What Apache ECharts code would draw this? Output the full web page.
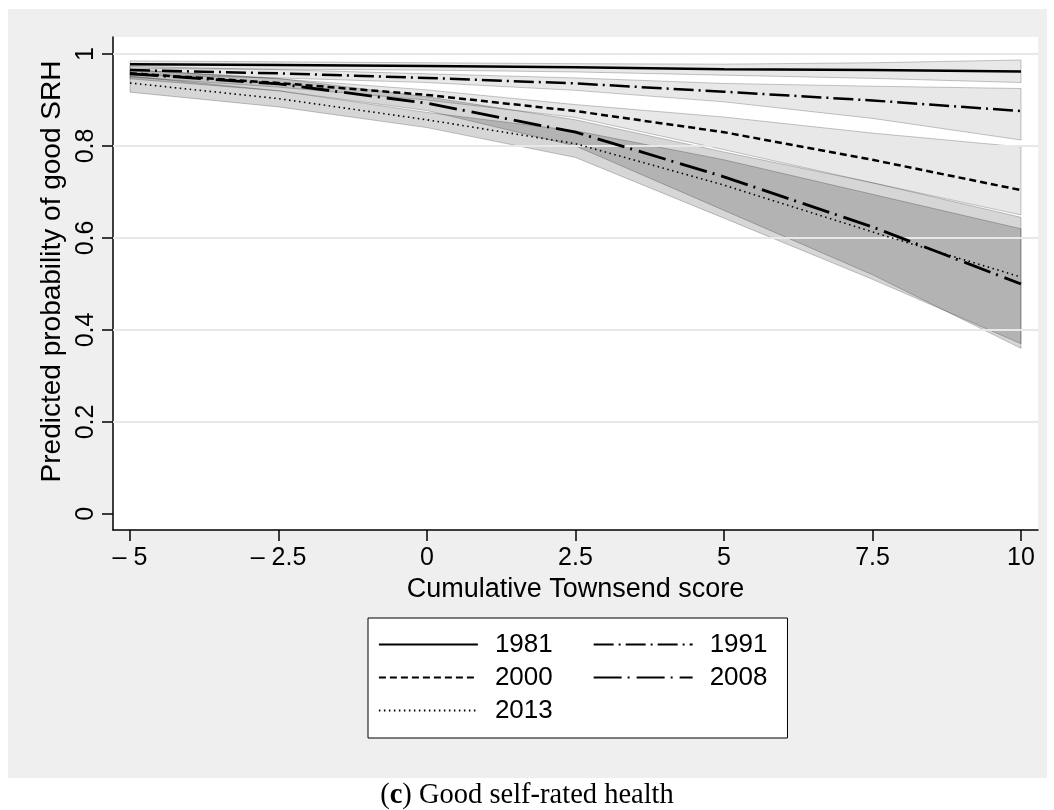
<!DOCTYPE html>
<html>
<head>
<meta charset="utf-8">
<script src="https://cdn.jsdelivr.net/npm/echarts@6/dist/echarts.min.js"></script>
<style>
html,body{margin:0;padding:0;background:#fff;}
#chart{width:1054px;height:810px;}
</style>
</head>
<body>
<div id="chart"></div>
<script>
// ---- data ----
const xs = [-5, -2.5, 0, 2.5, 5, 7.5, 10];
const xTicks = [-5, -2.5, 0, 2.5, 5, 7.5, 10];
const xTickLabels = ['\u2013 5', '\u2013 2.5', '0', '2.5', '5', '7.5', '10'];
const yTicks = [0, 0.2, 0.4, 0.6, 0.8, 1];
const yTickLabels = ['0', '0.2', '0.4', '0.6', '0.8', '1'];
const gridValues = [0.2, 0.4, 0.6, 0.8, 1];

const years = ['1981', '1991', '2000', '2008', '2013'];

const p1981 = [0.978, 0.976, 0.974, 0.971, 0.967, 0.965, 0.962];
const lo1981 = [0.968, 0.967, 0.965, 0.961, 0.954, 0.947, 0.938];
const hi1981 = [0.985, 0.983, 0.981, 0.979, 0.978, 0.981, 0.987];

const p1991 = [0.965, 0.958, 0.948, 0.936, 0.918, 0.899, 0.876];
const lo1991 = [0.955, 0.948, 0.938, 0.921, 0.896, 0.860, 0.813];
const hi1991 = [0.973, 0.966, 0.957, 0.948, 0.936, 0.930, 0.925];

const p2000 = [0.958, 0.937, 0.911, 0.876, 0.830, 0.770, 0.704];
const lo2000 = [0.950, 0.928, 0.900, 0.862, 0.792, 0.720, 0.650];
const hi2000 = [0.966, 0.946, 0.922, 0.890, 0.863, 0.828, 0.798];

const p2008 = [0.957, 0.935, 0.893, 0.830, 0.733, 0.624, 0.500];
const lo2008 = [0.946, 0.920, 0.877, 0.800, 0.660, 0.520, 0.360];
const hi2008 = [0.966, 0.947, 0.907, 0.857, 0.787, 0.720, 0.645];

const p2013 = [0.937, 0.903, 0.857, 0.805, 0.715, 0.613, 0.515];
const lo2013 = [0.917, 0.885, 0.840, 0.775, 0.643, 0.510, 0.370];
const hi2013 = [0.952, 0.920, 0.873, 0.833, 0.770, 0.695, 0.620];

// ---- build ----
const FONT = '"Liberation Sans", Arial, Helvetica, sans-serif';
const SERIF = '"Liberation Serif", "Times New Roman", serif';
const pts = (ys) => xs.map((x, i) => [x, ys[i]]);

function bandSeries(name, lo, hi, fill) {
  return {
    type: 'custom',
    name: 'band' + name,
    z: 2,
    silent: true,
    clip: true,
    data: xs.map((x, i) => [x, lo[i], hi[i]]),
    encode: { x: 0, y: [1, 2] },
    renderItem: function (params, api) {
      if (params.dataIndex !== 0) return null;
      const poly = [];
      for (let i = 0; i < xs.length; i++) poly.push(api.coord([xs[i], hi[i]]));
      for (let i = xs.length - 1; i >= 0; i--) poly.push(api.coord([xs[i], lo[i]]));
      return {
        type: 'polygon',
        shape: { points: poly },
        style: { fill: fill, stroke: 'rgba(0,0,0,0.22)', lineWidth: 1 }
      };
    }
  };
}

const lineStyles = {
  '1981': { type: 'solid', width: 2.5 },
  '1991': { type: [20, 5, 2, 5], width: 2.5 },
  '2000': { type: [7, 4], width: 2.5 },
  '2008': { type: [28, 6, 2, 7], width: 2.8 },
  '2013': { type: [1.5, 3.5], width: 1.6 }
};
const lineData = { '1981': p1981, '1991': p1991, '2000': p2000, '2008': p2008, '2013': p2013 };

const lineSeries = years.map(y => ({
  type: 'line',
  name: y,
  z: 5,
  symbol: 'none',
  smooth: false,
  data: pts(lineData[y]),
  lineStyle: Object.assign({ color: '#000' }, lineStyles[y]),
  itemStyle: { color: '#000' },
  emphasis: { disabled: true }
}));

const LIGHT = 'rgba(0,0,0,0.09)';
const DARK = 'rgba(0,0,0,0.16)';

const option = {
  backgroundColor: '#fff',
  animation: false,
  graphic: [
    { type: 'rect', z: -10, shape: { x: 8, y: 9, width: 1039, height: 769 }, style: { fill: '#efefef' }, silent: true },
    {
      type: 'text', z: 10, left: 'center', top: 781,
      style: {
        text: '{n|(}{b|c}{n|) Good self-rated health}',
        rich: {
          n: { fontFamily: SERIF, fontSize: 28.5, fill: '#000' },
          b: { fontFamily: SERIF, fontSize: 28.5, fontWeight: 'bold', fill: '#000' }
        }
      }
    }
  ],
  grid: {
    left: 113, right: 16, top: 37, bottom: 280,
    show: true, backgroundColor: '#fff', borderWidth: 0, containLabel: false
  },
  xAxis: {
    type: 'value',
    min: -5.286, max: 10.286,
    name: 'Cumulative Townsend score',
    nameLocation: 'middle',
    nameGap: 43,
    nameTextStyle: { fontFamily: FONT, fontSize: 27, color: '#000' },
    axisLine: { show: true, onZero: false, lineStyle: { color: '#000', width: 1.5 } },
    axisTick: { show: true, inside: false, length: 11, customValues: xTicks, lineStyle: { color: '#000', width: 1.5 } },
    axisLabel: {
      customValues: xTicks, margin: 16, fontFamily: FONT, fontSize: 25, color: '#000',
      formatter: v => { const i = xTicks.indexOf(v); return i >= 0 ? xTickLabels[i] : ''; }
    },
    splitLine: { show: false }
  },
  yAxis: {
    type: 'value',
    min: -0.035, max: 1.037,
    name: 'Predicted probability of good SRH',
    nameLocation: 'middle',
    nameGap: 46,
    nameTextStyle: { fontFamily: FONT, fontSize: 28, color: '#000', padding: [0, 0, 0, 24] },
    axisLine: { show: true, onZero: false, lineStyle: { color: '#000', width: 1.5 } },
    axisTick: { show: true, inside: false, length: 11, customValues: yTicks, lineStyle: { color: '#000', width: 1.5 } },
    axisLabel: {
      customValues: yTicks, rotate: 90, margin: 14, fontFamily: FONT, fontSize: 25, color: '#000',
      formatter: v => { const i = yTicks.indexOf(v); return i >= 0 ? yTickLabels[i] : ''; }
    },
    splitLine: { show: false }
  },
  legend: {
    left: 368, top: 618,
    orient: 'horizontal',
    backgroundColor: '#fff',
    borderColor: '#000', borderWidth: 1,
    padding: [10, 12, 11, 10],
    itemGap: 0,
    itemWidth: 99, itemHeight: 14,
    selectedMode: false,
    lineStyle: { width: 1.8 },
    itemStyle: { opacity: 0 },
    textStyle: { fontFamily: FONT, fontSize: 26, color: '#000', lineHeight: 33 },
    data: [
      { name: '1981', textStyle: { padding: [0, 40, 0, 12] } },
      { name: '1991', textStyle: { padding: [0, 8, 0, 12] } },
      '',
      { name: '2000', textStyle: { padding: [0, 40, 0, 12] } },
      { name: '2008', textStyle: { padding: [0, 8, 0, 12] } },
      '\n',
      { name: '2013', textStyle: { padding: [0, 40, 0, 12] } }
    ]
  },
  series: [
    {
      type: 'line', name: 'gridlines', z: 1, data: [], silent: true,
      markLine: {
        silent: true, symbol: ['none', 'none'], animation: false,
        label: { show: false },
        lineStyle: { color: '#e8e8e8', width: 2, type: 'solid' },
        emphasis: { disabled: true },
        data: gridValues.map(v => ({ yAxis: v }))
      }
    },
    bandSeries('1981', lo1981, hi1981, LIGHT),
    bandSeries('1991', lo1991, hi1991, LIGHT),
    bandSeries('2000', lo2000, hi2000, LIGHT),
    bandSeries('2008', lo2008, hi2008, DARK),
    bandSeries('2013', lo2013, hi2013, DARK)
  ].concat(lineSeries)
};

const chart = echarts.init(document.getElementById('chart'), null, { renderer: 'canvas' });
chart.setOption(option);
</script>
</body>
</html>
